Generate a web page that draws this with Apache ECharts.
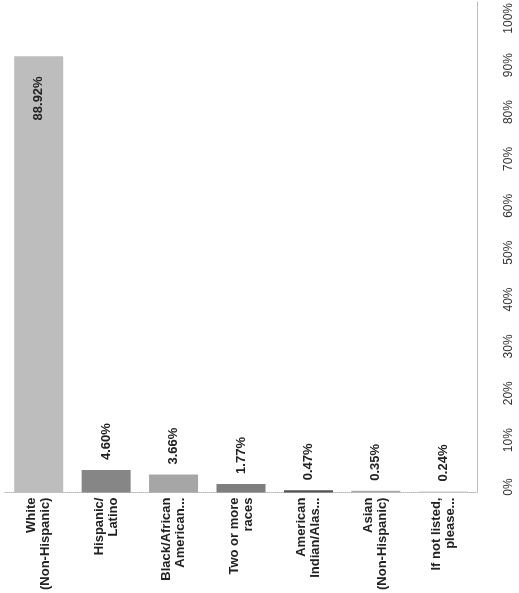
<!DOCTYPE html>
<html>
<head>
<meta charset="utf-8">
<script src="https://cdn.jsdelivr.net/npm/echarts@6/dist/echarts.min.js"></script>
<style>
html,body{margin:0;padding:0;background:#fff;}
#chart{width:519px;height:593px;}
</style>
</head>
<body>
<div id="chart"></div>
<script>
var categories = ['White\n(Non-Hispanic)', 'Hispanic/\nLatino', 'Black/African\nAmerican...', 'Two or more\nraces', 'American\nIndian/Alas...', 'Asian\n(Non-Hispanic)', 'If not listed,\nplease...'];
var values = [88.92, 4.60, 3.66, 1.77, 0.47, 0.35, 0.24];
var barColors = ['#bdbdbd', '#868686', '#a6a6a6', '#7e7e7e', '#555555', '#aaaaaa', '#c8c8c8'];
var tickValues = [0, 10, 20, 30, 40, 50, 60, 70, 80, 90, 100];

var FONT = '"Liberation Sans Narrow", "Arial Narrow", "Liberation Sans", Arial, sans-serif';

var chart = echarts.init(document.getElementById('chart'), null, {renderer: 'canvas'});

var data = values.map(function (v, i) {
  var isBig = i === 0;
  return {
    value: v,
    itemStyle: {color: barColors[i]},
    label: isBig ? {
      position: 'insideTop', distance: 20, align: 'right', verticalAlign: 'middle'
    } : {
      position: 'top', distance: 10, align: 'left', verticalAlign: 'middle'
    }
  };
});

chart.setOption({
  backgroundColor: '#ffffff',
  animation: false,
  grid: [
    {left: 5, right: 42, top: 2, bottom: 96},
    {left: 5, right: 42, top: 16, bottom: 106}
  ],
  xAxis: [
    {
      type: 'category', gridIndex: 0, data: categories,
      axisLine: {show: true, lineStyle: {color: '#b5b5b5', type: 'dotted', width: 1}},
      axisTick: {show: false},
      axisLabel: {
        interval: 0, rotate: 90, margin: 5,
        fontFamily: FONT, fontSize: 13, fontWeight: 'bold', color: '#222',
        lineHeight: 14
      }
    },
    {
      type: 'category', gridIndex: 1, data: categories, show: false
    }
  ],
  yAxis: [
    {
      type: 'value', gridIndex: 0, min: 0, max: 100, interval: 10, position: 'right',
      axisLine: {show: true, lineStyle: {color: '#b5b5b5', type: 'dotted', width: 1}},
      axisTick: {show: false},
      axisLabel: {show: false},
      splitLine: {show: false}
    },
    {
      type: 'value', gridIndex: 1, min: tickValues[0], max: tickValues[tickValues.length - 1], interval: 10, position: 'right',
      axisLine: {show: false},
      axisTick: {show: false},
      splitLine: {show: false},
      axisLabel: {
        rotate: 90, margin: 26,
        fontFamily: FONT, fontSize: 12, color: '#333',
        formatter: function (v) { return v + '%'; }
      }
    }
  ],
  series: [
    {
      type: 'bar', xAxisIndex: 0, yAxisIndex: 0,
      data: data,
      barWidth: 49,
      label: {
        show: true, rotate: 90,
        fontFamily: FONT, fontSize: 13, fontWeight: 'bold', color: '#222',
        formatter: function (p) { return p.value.toFixed(2) + '%'; }
      }
    }
  ]
});
</script>
</body>
</html>
